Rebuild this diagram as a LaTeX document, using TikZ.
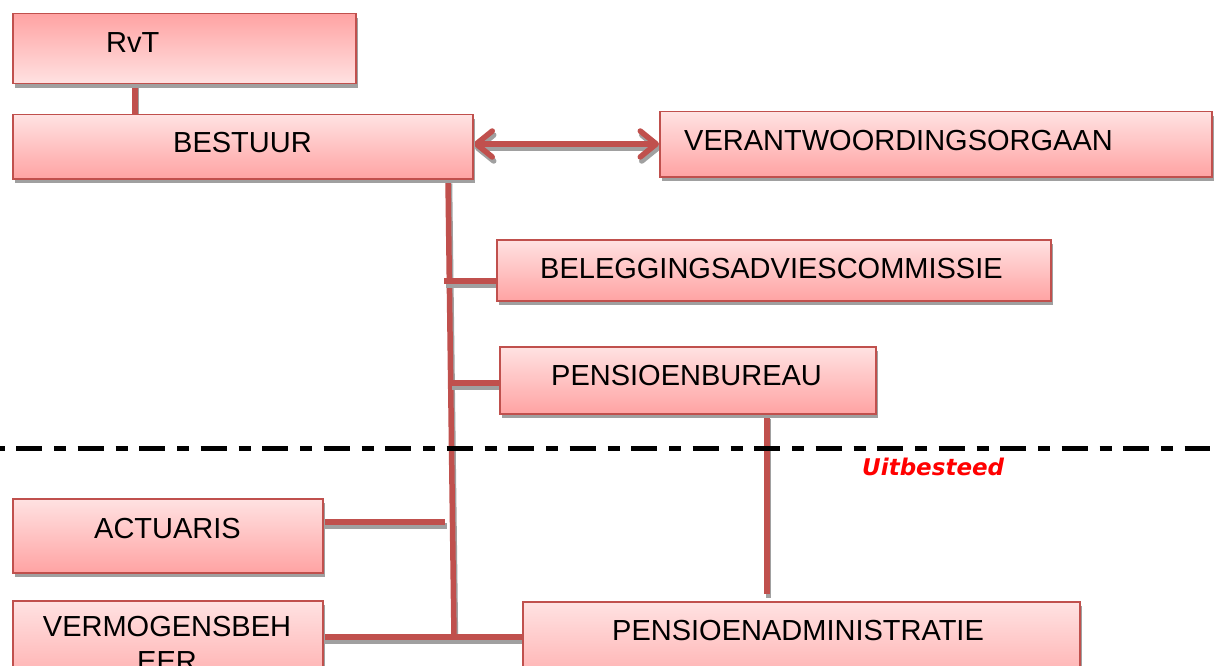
\documentclass[tikz,border=0pt]{standalone}
\usepackage{fontspec}
\setmainfont{Liberation Sans}
\newfontfamily\uitfont{DejaVu Sans}
\usetikzlibrary{arrows.meta,shadows,backgrounds}
\definecolor{bordred}{HTML}{C0504D}
\definecolor{pinklight}{HTML}{FFE2E2}
\definecolor{pinkdark}{HTML}{FFA3A3}
\definecolor{shadowgray}{HTML}{A0A0A0}
\definecolor{uitred}{HTML}{FF0000}
\tikzset{
  orgbox/.style={rectangle, draw=bordred, line width=1.5pt, top color=pinklight, bottom color=pinkdark,
    drop shadow={shadow xshift=2pt, shadow yshift=-4pt, fill=shadowgray, opacity=1},
    anchor=north west, inner sep=0pt},
  orgboxinv/.style={orgbox, top color=pinkdark, bottom color=pinklight},
  lbl/.style={inner sep=0pt, font=\fontsize{29}{35}\selectfont, text=black},
  conn/.style={draw=bordred, line width=5.5pt,
    preaction={draw=shadowgray, line width=5.5pt, transform canvas={xshift=1.5pt, yshift=-4pt}}},
  sepline/.style={draw=black, line width=5pt, dash pattern=on 26pt off 12pt on 12pt off 11.5pt, dash phase=45.5pt},
  uitlbl/.style={inner sep=0pt, font=\uitfont\bfseries\itshape\fontsize{23}{27}\selectfont, text=uitred}
}
\begin{document}
\begin{tikzpicture}[x=1pt,y=-1pt]
\useasboundingbox (0,0) rectangle (1221,666);
\clip (0,0) rectangle (1221,666);
% boxes
\node[orgboxinv, minimum width=343pt, minimum height=70pt] (rvt) at (12,13) {};
\node[lbl, anchor=base west] (rvtT) at (106,53) {RvT};
\node[orgbox, minimum width=460pt, minimum height=64pt] (bestuur) at (12,114) {};
\node[lbl, anchor=base west] (bestuurT) at (173,153) {BESTUUR};
\node[orgbox, minimum width=552pt, minimum height=65pt] (verant) at (659,111) {};
\node[lbl, anchor=base west] (verantT) at (684,151) {VERANTWOORDINGSORGAAN};
\node[orgbox, minimum width=554pt, minimum height=61pt] (beleg) at (496,239) {};
\node[lbl, anchor=base west] (belegT) at (540,278) {BELEGGINGSADVIESCOMMISSIE};
\node[orgbox, minimum width=376pt, minimum height=67pt] (bureau) at (499,346) {};
\node[lbl, anchor=base west] (bureauT) at (551,385) {PENSIOENBUREAU};
\node[orgbox, minimum width=310pt, minimum height=74pt] (actuaris) at (12,498) {};
\node[lbl, anchor=base west] (actuarisT) at (94,538) {ACTUARIS};
\node[orgbox, minimum width=310pt, minimum height=100pt] (vermogen) at (12,600) {};
\node[lbl, anchor=north, align=center] (vermogenT) at (167,616.5) {VERMOGENSBEH\\EER};
\node[orgbox, minimum width=557pt, minimum height=100pt] (pensadmin) at (522,601) {};
\node[lbl, anchor=base west] (pensadminT) at (612,640) {PENSIOENADMINISTRATIE};
% separator
\coordinate (sepL) at (0,448);
\coordinate (sepR) at (1210,448);
\draw[sepline] (sepL) -- (sepR);
\node[uitlbl, anchor=base west] (uit) at (862,475) {Uitbesteed};
% connectors
\coordinate (trunkEnd) at (454,637);
\coordinate (belegJ) at (444,281);
\coordinate (bureauJ) at (450,383);
\coordinate (actJ) at (445,522);
\coordinate (bureauEnd) at (767,594);
\begin{pgfonlayer}{background}
\draw[conn] (135,0 |- rvt.south) -- (135,0 |- bestuur.north);
\draw[conn] (448,0 |- bestuur.south) -- (trunkEnd);
\draw[conn] (belegJ) -- (beleg.west |- belegJ);
\draw[conn] (bureauJ) -- (bureau.west |- bureauJ);
\draw[conn] (actuaris.east |- actJ) -- (actJ);
\draw[conn] (vermogen.east |- trunkEnd) -- (pensadmin.west |- trunkEnd);
\draw[conn] (bureauEnd |- bureau.south) -- (bureauEnd);
\draw[conn, {Straight Barb[length=16pt, width=26pt, round]}-{Straight Barb[length=16pt, width=26pt, round]}]
  (bestuur.east |- 0,144) -- (verant.west |- 0,144);
\end{pgfonlayer}
\end{tikzpicture}
\end{document}
